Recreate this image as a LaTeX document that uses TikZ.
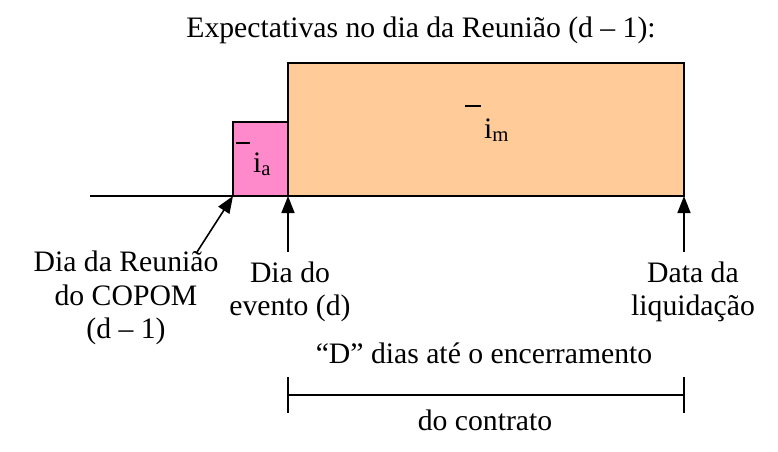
\documentclass[tikz,border=0pt]{standalone}
\usepackage{fontspec}
\setmainfont{Liberation Serif}
\usetikzlibrary{arrows.meta}
\definecolor{rosa}{HTML}{FF8ACB}
\definecolor{pessego}{HTML}{FFCC99}

\begin{document}
\begin{tikzpicture}[x=1pt,y=-1pt,
  lbl/.style={font=\fontsize{29.7}{33.5}\selectfont,align=center,inner sep=0pt},
  seta/.style={line width=1.6pt,-{Triangle[width=13pt,length=17pt]}},
  barra/.style={line width=1.4pt}]
\useasboundingbox (0,0) rectangle (778,451);

\node[lbl] (titulo) at (421,30) {Expectativas no dia da Reunião (d -- 1):};

% taxas
\draw[fill=rosa,line width=1.4pt] (233,122) rectangle (288,196);
\draw[fill=pessego,line width=1.4pt] (288,63) rectangle (684,196);
\draw[line width=1.6pt] (90,196) -- (684,196);

\node[lbl,anchor=base west] (ia) at (253,172) {i\textsubscript{a}};
\draw[barra] (236,143) -- (250,143);
\node[lbl,anchor=base west] (im) at (484,138) {i\textsubscript{m}};
\draw[barra] (465,106) -- (481,106);

% datas
\coordinate (reuniao) at (233,196);
\coordinate (evento) at (288,196);
\coordinate (liquid) at (684,196);
\coordinate (reuniaoT) at (197,252);
\coordinate (eventoT) at (288,252);
\coordinate (liquidT) at (684,252);
\draw[seta] (reuniaoT) -- (reuniao);
\draw[seta] (eventoT) -- (evento);
\draw[seta] (liquidT) -- (liquid);

\node[lbl] (lreuniao) at (126,298) {Dia da Reunião\\do COPOM\\(d -- 1)};
\node[lbl] (levento) at (290,292) {Dia do\\evento (d)};
\node[lbl] (lliquid) at (693,292) {Data da\\liquidação};

% prazo
\coordinate (ini) at (288,395);
\coordinate (fim) at (684,395);
\draw[line width=2pt] (ini) -- (fim);
\draw[line width=2pt] ([yshift=-18pt]ini) -- ([yshift=18pt]ini);
\draw[line width=2pt] ([yshift=-18pt]fim) -- ([yshift=18pt]fim);
\node[lbl] (dias) at (484,353) {“D” dias até o encerramento};
\node[lbl] (contrato) at (485,420) {do contrato};
\end{tikzpicture}
\end{document}
